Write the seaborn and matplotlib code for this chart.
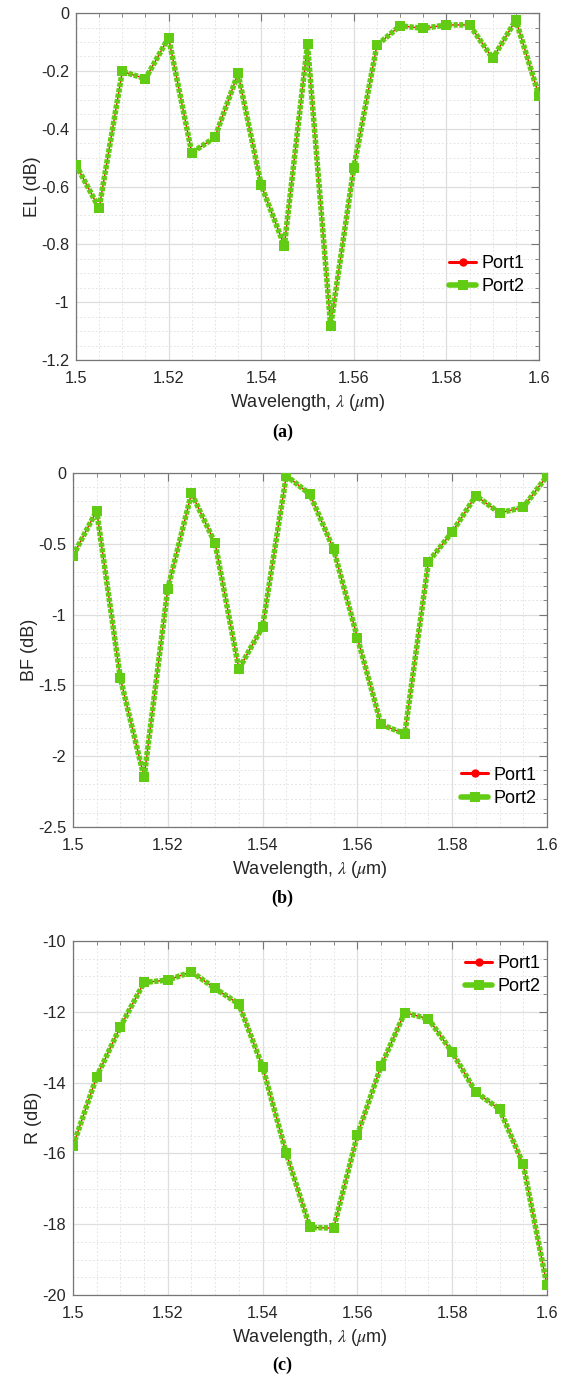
import matplotlib
matplotlib.use("Agg")
import matplotlib.pyplot as plt
from matplotlib.ticker import MultipleLocator, FixedLocator, FixedFormatter
import pandas as pd
import seaborn as sns

# Wavelength sweep (um)
wavelength = [1.500, 1.505, 1.510, 1.515, 1.520, 1.525, 1.530, 1.535, 1.540, 1.545, 1.550,
              1.555, 1.560, 1.565, 1.570, 1.575, 1.580, 1.585, 1.590, 1.595, 1.600]

# Excess loss (dB)
el_port1 = [-0.525, -0.675, -0.202, -0.227, -0.085, -0.483, -0.430, -0.209, -0.595, -0.805, -0.108,
            -1.082, -0.535, -0.111, -0.044, -0.053, -0.041, -0.041, -0.157, -0.024, -0.286]
el_port2 = [-0.525, -0.675, -0.202, -0.227, -0.085, -0.483, -0.430, -0.209, -0.595, -0.805, -0.108,
            -1.082, -0.535, -0.111, -0.044, -0.053, -0.041, -0.041, -0.157, -0.024, -0.286]

# Bandwidth flatness (dB)
bf_port1 = [-0.584, -0.266, -1.450, -2.150, -0.817, -0.143, -0.497, -1.384, -1.085, -0.019, -0.150,
            -0.540, -1.163, -1.775, -1.843, -0.626, -0.417, -0.160, -0.282, -0.242, -0.021]
bf_port2 = [-0.584, -0.266, -1.450, -2.150, -0.817, -0.143, -0.497, -1.384, -1.085, -0.019, -0.150,
            -0.540, -1.163, -1.775, -1.843, -0.626, -0.417, -0.160, -0.282, -0.242, -0.021]

# Reflection (dB)
r_port1 = [-15.79, -13.83, -12.42, -11.17, -11.10, -10.87, -11.34, -11.78, -13.55, -16.00, -18.09,
           -18.11, -15.48, -13.53, -12.02, -12.20, -13.14, -14.27, -14.75, -16.31, -19.73]
r_port2 = [-15.79, -13.83, -12.42, -11.17, -11.10, -10.87, -11.34, -11.78, -13.55, -16.00, -18.09,
           -18.11, -15.48, -13.53, -12.02, -12.20, -13.14, -14.27, -14.75, -16.31, -19.73]

x_ticks = [1.50, 1.52, 1.54, 1.56, 1.58, 1.60]
x_tick_labels = ["1.5", "1.52", "1.54", "1.56", "1.58", "1.6"]

el_ticks = [0, -0.2, -0.4, -0.6, -0.8, -1.0, -1.2]
el_tick_labels = ["0", "-0.2", "-0.4", "-0.6", "-0.8", "-1", "-1.2"]
bf_ticks = [0, -0.5, -1.0, -1.5, -2.0, -2.5]
bf_tick_labels = ["0", "-0.5", "-1", "-1.5", "-2", "-2.5"]
r_ticks = [-10, -12, -14, -16, -18, -20]
r_tick_labels = ["-10", "-12", "-14", "-16", "-18", "-20"]

series_labels = ["Port1", "Port2"]
captions = ["(a)", "(b)", "(c)"]
y_labels = ["EL (dB)", "BF (dB)", "R (dB)"]
x_label = r"Wavelength, $\lambda$ ($\mu$m)"

sns.set_theme(style="white")
plt.rcParams["font.family"] = ["Liberation Sans", "DejaVu Sans"]
plt.rcParams["mathtext.fontset"] = "stix"
plt.rcParams["lines.scale_dashes"] = False

TEXT = "#262626"
SPINE = "#767676"
RED = "#ff0000"
GREEN = "#62cc14"

fig = plt.figure(figsize=(5.65, 13.88), dpi=100)

panels = [
    dict(rect=[0.1345, 0.7406, 0.8195, 0.2500], p1=el_port1, p2=el_port2,
         ticks=el_ticks, labels=el_tick_labels, lim=(-1.2, 0), minor=0.05,
         ylabel=y_labels[0], legend=(0.806, 0.245), caption_y=0.6888),
    dict(rect=[0.1292, 0.4042, 0.8389, 0.2550], p1=bf_port1, p2=bf_port2,
         ticks=bf_ticks, labels=bf_tick_labels, lim=(-2.5, 0), minor=0.1,
         ylabel=y_labels[1], legend=(0.819, 0.113), caption_y=0.3530),
    dict(rect=[0.1292, 0.0670, 0.8389, 0.2550], p1=r_port1, p2=r_port2,
         ticks=r_ticks, labels=r_tick_labels, lim=(-20, -10), minor=0.5,
         ylabel=y_labels[2], legend=(0.827, 0.904), caption_y=0.0166),
]

for panel, caption in zip(panels, captions):
    ax = fig.add_axes(panel["rect"])
    df = pd.DataFrame({"wl": wavelength, "p1": panel["p1"], "p2": panel["p2"]})

    sns.lineplot(data=df, x="wl", y="p1", ax=ax, color=RED, lw=1.0,
                 marker="o", markersize=4.5, markeredgewidth=0,
                 label=series_labels[0], zorder=3)
    sns.lineplot(data=df, x="wl", y="p2", ax=ax, color=GREEN, lw=4.0,
                 linestyle=(0, (3.0, 1.0)), dash_capstyle="butt",
                 marker="s", markersize=6.5, markeredgewidth=0,
                 label=series_labels[1], zorder=4)

    ax.set_xlim(1.5, 1.6)
    ax.set_ylim(*panel["lim"])
    ax.xaxis.set_major_locator(FixedLocator(x_ticks))
    ax.xaxis.set_major_formatter(FixedFormatter(x_tick_labels))
    ax.xaxis.set_minor_locator(MultipleLocator(0.005))
    ax.yaxis.set_major_locator(FixedLocator(panel["ticks"]))
    ax.yaxis.set_major_formatter(FixedFormatter(panel["labels"]))
    ax.yaxis.set_minor_locator(MultipleLocator(panel["minor"]))

    ax.grid(which="major", color="#dedede", lw=0.9, ls="-", zorder=0)
    ax.grid(which="minor", color="#e2e2e2", lw=0.7, ls=(0, (1.2, 1.6)), zorder=0)
    ax.set_axisbelow(True)

    for s in ax.spines.values():
        s.set_visible(True)
        s.set_color(SPINE)
        s.set_linewidth(0.9)
    ax.tick_params(which="both", direction="in", top=True, right=True,
                   color=SPINE, labelcolor=TEXT, labelsize=11.7)
    ax.tick_params(axis="x", which="major", length=5.5, width=0.8, pad=8)
    ax.tick_params(axis="y", which="major", length=5.5, width=0.8, pad=5)
    ax.tick_params(which="minor", length=2.7, width=0.6)

    ax.set_xlabel(x_label, fontsize=13, color=TEXT, labelpad=4)
    ax.set_ylabel(panel["ylabel"], fontsize=13, color=TEXT, labelpad=0)

    leg = ax.legend(loc="center left", bbox_to_anchor=panel["legend"], frameon=False,
                    fontsize=13, handlelength=1.5, handletextpad=0.3,
                    labelspacing=0.35, borderpad=0, borderaxespad=0)
    for t in leg.get_texts():
        t.set_color("black")
    p1_handle, p2_handle = leg.get_lines()
    p1_handle.set_linewidth(2.2)
    p1_handle.set_markersize(6)
    p2_handle.set_linestyle("-")

    fig.text(0.5, panel["caption_y"], caption, ha="center", va="center",
             family=["Liberation Serif", "DejaVu Serif"], fontweight="bold",
             fontsize=13, color="black")

fig.savefig("out.png", dpi=100)
